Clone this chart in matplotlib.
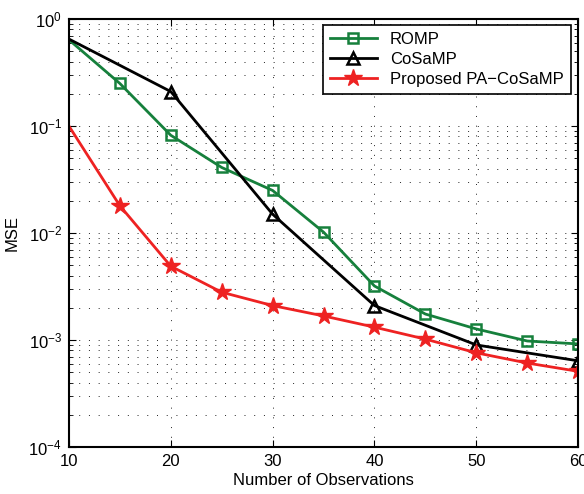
import matplotlib
matplotlib.use("Agg")
import matplotlib.pyplot as plt
from matplotlib.ticker import LogLocator, NullFormatter

plt.rcParams['font.family'] = ['Liberation Sans', 'DejaVu Sans']

x_romp = [10, 15, 20, 25, 30, 35, 40, 45, 50, 55, 60]
romp = [0.64, 0.25, 0.082, 0.041, 0.025, 0.0102, 0.0032, 0.00175, 0.00127, 0.00098, 0.00092]

x_cosamp = [10, 20, 30, 40, 50, 60]
cosamp = [0.65, 0.21, 0.015, 0.0021, 0.00090, 0.00064]

x_prop = [10, 15, 20, 25, 30, 35, 40, 45, 50, 55, 60]
prop = [0.1, 0.018, 0.0049, 0.0028, 0.0021, 0.00168, 0.00132, 0.00102, 0.00076, 0.00061, 0.00051]

fig = plt.figure(figsize=(5.84, 4.94), dpi=100)
ax = fig.add_axes([0.118, 0.095, 0.872, 0.8665])

green = '#16803c'
red = '#ee2222'
ax.plot(x_romp, romp, color=green, lw=2, marker='s', ms=7, mfc='none', mew=1.8,
        markevery=list(range(1, len(x_romp))), label='ROMP')
ax.plot(x_cosamp, cosamp, color='black', lw=2, marker='^', ms=9, mfc='none', mew=1.8,
        markevery=list(range(1, len(x_cosamp))), label='CoSaMP')
ax.plot(x_prop, prop, color=red, lw=2, marker='*', ms=13, mfc=red, mec=red,
        markevery=list(range(1, len(x_prop))), label='Proposed PA\u2212CoSaMP')

ax.set_yscale('log')
ax.set_xlim(10, 60)
ax.set_ylim(1e-4, 1e0)
ax.set_xticks([10, 20, 30, 40, 50, 60])
ax.yaxis.set_major_locator(LogLocator(base=10, numticks=10))
ax.yaxis.set_minor_locator(LogLocator(base=10, subs=range(2, 10), numticks=100))
ax.yaxis.set_minor_formatter(NullFormatter())

gstyle = dict(linestyle=(0, (1, 9)), color='#222222', lw=0.7)
ax.grid(True, which='major', axis='both', **gstyle)
ax.grid(True, which='minor', axis='y', **gstyle)

ax.tick_params(which='both', direction='in', top=True, right=True, labelsize=12)
ax.tick_params(which='major', length=5, pad=5)
ax.tick_params(which='minor', length=3)
for s in ax.spines.values():
    s.set_linewidth(1.5)

ax.set_xlabel('Number of Observations', fontsize=12, labelpad=3)
ax.set_ylabel('MSE', fontsize=12, labelpad=6)

leg = ax.legend(loc='upper right', bbox_to_anchor=(0.985, 0.985), fontsize=12,
                fancybox=False, edgecolor='black', framealpha=1, borderaxespad=0,
                handlelength=2.8, labelspacing=0.3, borderpad=0.4)
leg.get_frame().set_linewidth(1.2)

fig.savefig('out.png', dpi=100)
